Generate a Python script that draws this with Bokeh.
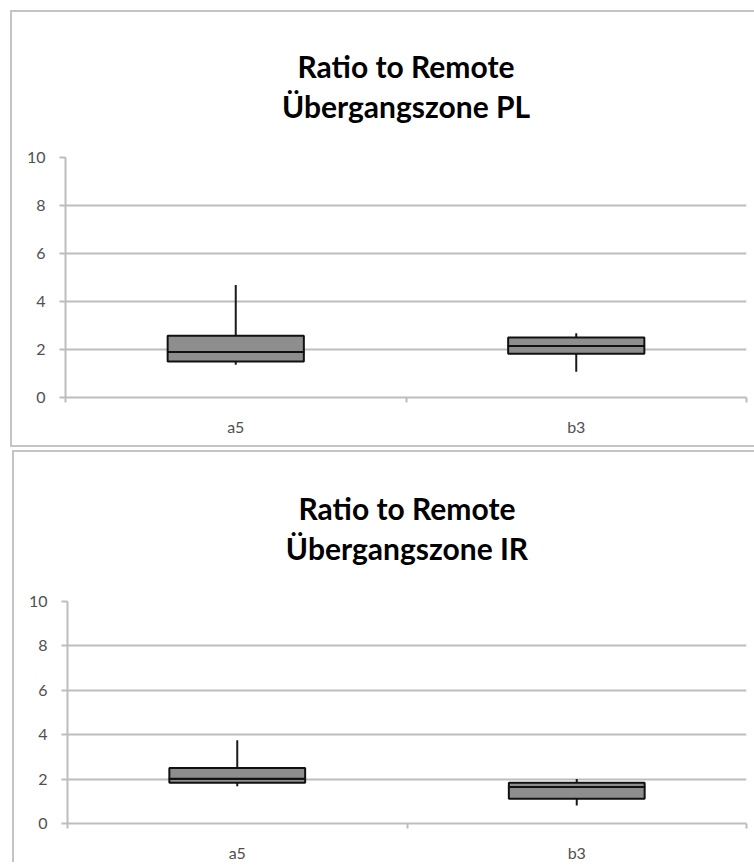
from bokeh.plotting import figure
from bokeh.models import (Range1d, LinearAxis, FixedTicker, Title,
                          ColumnDataSource, Grid)
from bokeh.layouts import column
from bokeh.embed import file_html
from bokeh.resources import INLINE

# ---------------- data ----------------
categories = ["a5", "b3"]
y_ticks = [0, 2, 4, 6, 8, 10]

pl_title = ["Ratio to Remote", "Übergangszone PL"]
pl_min = [1.36, 1.07]
pl_q1 = [1.50, 1.82]
pl_median = [1.90, 2.15]
pl_q3 = [2.57, 2.50]
pl_max = [4.69, 2.68]

ir_title = ["Ratio to Remote", "Übergangszone IR"]
ir_min = [1.68, 0.81]
ir_q1 = [1.83, 1.12]
ir_median = [2.02, 1.64]
ir_q3 = [2.50, 1.83]
ir_max = [3.75, 2.01]

GRID = "#bdbdbd"
TICK_TXT = "#505050"
BORDER = "#c4c4c4"

n = len(categories)
centers = [i + 0.5 for i in range(n)]
edges = list(range(n + 1))


def make_chart(title_lines, mins, q1, med, q3, maxs, width, height,
               mb_left, mb_right, mb_top, mb_bottom, standoff, margin, border_css):
    p = figure(x_range=Range1d(0, n),
               y_range=Range1d(y_ticks[0], y_ticks[-1]),
               width=width, height=height, output_backend="svg",
               toolbar_location=None, x_axis_location=None, y_axis_location=None,
               min_border_left=mb_left, min_border_right=mb_right,
               min_border_top=mb_top, min_border_bottom=mb_bottom,
               margin=margin)
    p.outline_line_color = None
    p.background_fill_color = "white"
    p.border_fill_color = "white"
    css = {"box-sizing": "content-box", "border-right": "none"}
    css.update(border_css)
    p.styles = css
    for g in p.xgrid + p.ygrid:
        g.visible = False

    yaxis = LinearAxis(ticker=FixedTicker(ticks=y_ticks))
    yaxis.axis_line_color = GRID
    yaxis.axis_line_width = 2
    yaxis.major_tick_line_color = GRID
    yaxis.major_tick_line_width = 2
    yaxis.major_tick_out = 6
    yaxis.major_tick_in = 0
    yaxis.minor_tick_line_color = None
    yaxis.major_label_standoff = 14
    yaxis.major_label_text_font = "Lato"
    yaxis.major_label_text_font_size = "16px"
    yaxis.major_label_text_color = TICK_TXT
    p.add_layout(yaxis, "left")

    eaxis = LinearAxis(ticker=FixedTicker(ticks=edges),
                       major_label_overrides={e: "" for e in edges})
    eaxis.axis_line_color = GRID
    eaxis.axis_line_width = 2
    eaxis.major_tick_line_color = GRID
    eaxis.major_tick_line_width = 2
    eaxis.major_tick_out = 5
    eaxis.major_tick_in = 0
    eaxis.minor_tick_line_color = None
    eaxis.major_label_standoff = 0
    eaxis.major_label_text_font_size = "1px"
    p.add_layout(eaxis, "below")

    caxis = LinearAxis(ticker=FixedTicker(ticks=centers),
                       major_label_overrides={c: cat for c, cat in zip(centers, categories)})
    caxis.axis_line_color = None
    caxis.major_tick_line_color = None
    caxis.major_tick_out = 0
    caxis.major_tick_in = 0
    caxis.minor_tick_line_color = None
    caxis.major_label_standoff = 14
    caxis.major_label_text_font = "Lato"
    caxis.major_label_text_font_size = "16px"
    caxis.major_label_text_color = TICK_TXT
    p.add_layout(caxis, "below")

    grid = Grid(dimension=1, ticker=FixedTicker(ticks=y_ticks))
    grid.grid_line_color = GRID
    grid.grid_line_width = 2
    p.add_layout(grid)

    src = ColumnDataSource(dict(x=centers, lo=mins, q1=q1, med=med, q3=q3, hi=maxs))
    p.segment(x0="x", y0="lo", x1="x", y1="hi", source=src,
              line_color="#1a1a1a", line_width=2)
    p.vbar(x="x", bottom="q1", top="med", width=0.4, source=src,
           fill_color="#8e8e8e", line_color="#111111", line_width=2)
    p.vbar(x="x", bottom="med", top="q3", width=0.4, source=src,
           fill_color="#8e8e8e", line_color="#111111", line_width=2)

    title = Title(text="\n".join(title_lines), align="center", standoff=standoff,
                  text_font="Lato", text_font_style="bold",
                  text_line_height=1.1,
                  text_font_size="30px", text_color="black")
    try:
        title.text_align = "center"
    except Exception:
        pass
    p.add_layout(title, "above")
    return p


p1 = make_chart(pl_title, pl_min, pl_q1, pl_median, pl_q3, pl_max,
                width=742, height=433, mb_left=53, mb_right=4, mb_top=138, mb_bottom=52,
                standoff=67, margin=(10, 0, 0, 10),
                border_css={"border-left": f"2px solid {BORDER}",
                            "border-top": f"2px solid {BORDER}",
                            "border-bottom": f"2px solid {BORDER}"})
p2 = make_chart(ir_title, ir_min, ir_q1, ir_median, ir_q3, ir_max,
                width=740, height=410, mb_left=48, mb_right=10, mb_top=130, mb_bottom=41,
                standoff=71, margin=(3, 0, 0, 12),
                border_css={"border-left": f"2px solid {BORDER}",
                            "border-top": f"2px solid {BORDER}"})

layout = column(p1, p2, spacing=0)

with open("out.html", "w") as f:
    f.write(file_html(layout, INLINE))
